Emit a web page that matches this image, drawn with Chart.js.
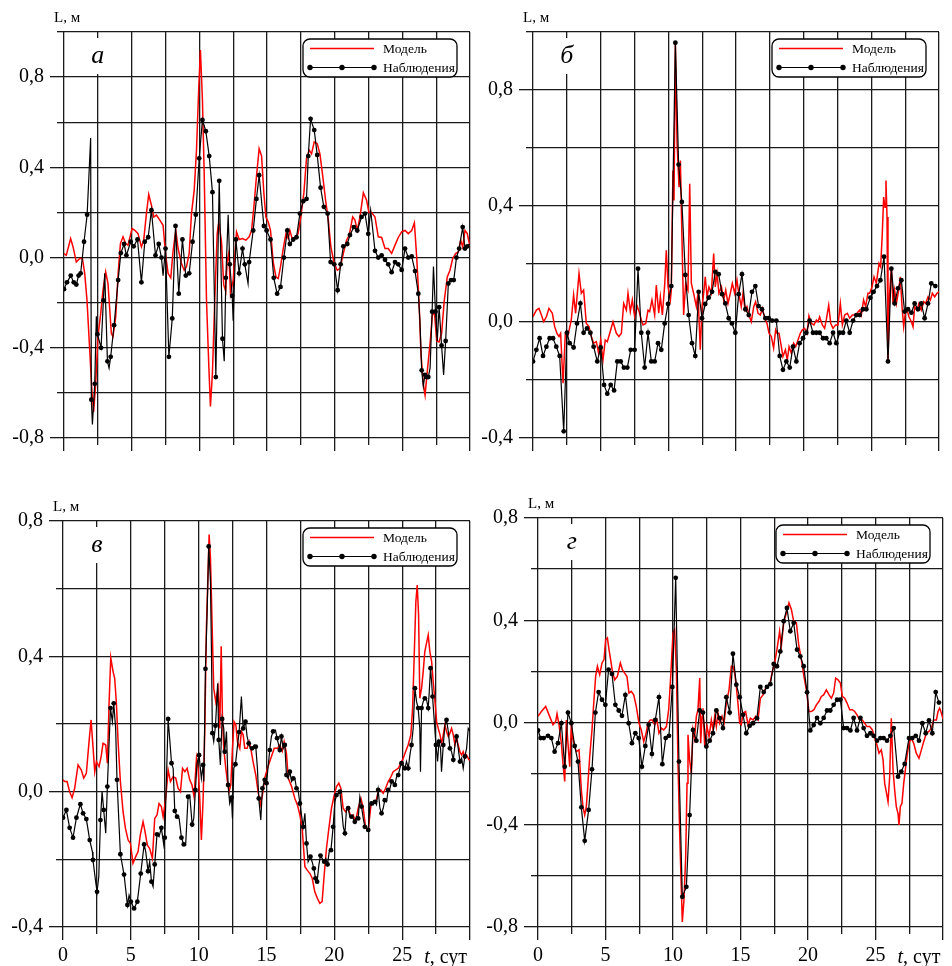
<!DOCTYPE html>
<html>
<head>
<meta charset="utf-8">
<script src="https://cdn.jsdelivr.net/npm/chart.js@4.4.1/dist/chart.umd.min.js"></script>
<style>
  html, body { margin: 0; padding: 0; background: #fff; }
  body { width: 952px; height: 966px; position: relative; overflow: hidden; }
  canvas { position: absolute; }
</style>
</head>
<body>
<canvas id="panelA" width="476" height="465" style="left:0px;top:0px"></canvas>
<canvas id="panelB" width="480" height="465" style="left:469px;top:0px"></canvas>
<canvas id="panelV" width="476" height="485" style="left:-1px;top:489px"></canvas>
<canvas id="panelG" width="483" height="488" style="left:474px;top:486px"></canvas>
<script>
  // ---------------------------
  // Axes
  // ---------------------------
  const xGrid = [0, 2.5, 5, 7.5, 10, 12.5, 15, 17.5, 20, 22.5, 25, 27.5, 30];
  const xMajor = [0, 5, 10, 15, 20, 25, 30];
  const xTickLabels = ["0", "5", "10", "15", "20", "25", ""];

  const yGridA = [-0.8, -0.6, -0.4, -0.2, 0, 0.2, 0.4, 0.6, 0.8, 1.0];
  const yLabA = [-0.8, -0.4, 0, 0.4, 0.8];
  const yGridB = [-0.4, -0.2, 0, 0.2, 0.4, 0.6, 0.8, 1.0];
  const yLabB = [-0.4, 0, 0.4, 0.8];
  const yGridV = [-0.4, -0.2, 0, 0.2, 0.4, 0.6, 0.8];
  const yLabV = [-0.4, 0, 0.4, 0.8];
  const yGridG = [-0.8, -0.6, -0.4, -0.2, 0, 0.2, 0.4, 0.6, 0.8];
  const yLabG = [-0.8, -0.4, 0, 0.4, 0.8];

  // ---------------------------
  // Panel а
  // ---------------------------
  const modelA = [[0,0.018],[0.17,0.01],[0.49,0.084],[0.67,0.047],[0.91,-0.02],[1.16,-0.004],[1.36,-0.004],[1.53,-0.07],[1.7,-0.19],[1.9,-0.41],[2.07,-0.6],[2.19,-0.685],[2.34,-0.56],[2.51,-0.35],[2.71,-0.25],[2.88,-0.145],[3.08,-0.064],[3.25,-0.115],[3.5,-0.337],[3.62,-0.35],[3.82,-0.263],[4.0,-0.07],[4.17,0.062],[4.36,0.092],[4.56,0.062],[4.73,0.055],[5.03,0.129],[5.23,0.121],[5.47,0.106],[5.72,0.047],[5.89,0.077],[6.09,0.195],[6.26,0.28],[6.46,0.232],[6.63,0.18],[6.83,0.188],[7.08,0.166],[7.32,0.143],[7.5,0.018],[7.69,-0.07],[7.89,-0.09],[8.06,0.03],[8.26,0.121],[8.43,0.04],[8.68,-0.027],[8.88,-0.056],[9.05,-0.041],[9.25,0.018],[9.42,0.195],[9.62,0.298],[9.79,0.476],[9.96,0.757],[10.08,0.92],[10.23,0.7],[10.36,0.37],[10.53,-0.19],[10.7,-0.48],[10.82,-0.66],[10.97,-0.51],[11.14,-0.19],[11.32,0.106],[11.44,0.158],[11.64,0.07],[11.8,-0.12],[11.95,-0.15],[12.05,-0.02],[12.18,0.02],[12.3,-0.16],[12.5,-0.1],[12.75,0.114],[12.95,0.08],[13.19,0.084],[13.44,0.077],[13.68,0.092],[13.86,0.12],[14.03,0.225],[14.22,0.358],[14.42,0.483],[14.6,0.45],[14.77,0.284],[14.92,0.18],[15.09,0.158],[15.26,0.12],[15.46,-0.02],[15.66,-0.086],[15.83,-0.093],[16.0,-0.04],[16.2,0.04],[16.4,0.106],[16.57,0.084],[16.69,0.12],[16.89,0.077],[17.06,0.09],[17.3,0.106],[17.5,0.18],[17.73,0.29],[17.92,0.44],[18.12,0.476],[18.29,0.46],[18.49,0.513],[18.71,0.505],[18.91,0.46],[19.1,0.37],[19.33,0.254],[19.53,0.166],[19.72,0.047],[19.97,-0.027],[20.19,-0.056],[20.39,-0.049],[20.64,0.018],[20.88,0.077],[21.08,0.1],[21.33,0.18],[21.5,0.166],[21.67,0.12],[21.87,0.18],[22.12,0.287],[22.36,0.254],[22.53,0.2],[22.73,0.2],[22.98,0.18],[23.22,0.092],[23.47,0.089],[23.72,0.04],[23.96,0.04],[24.21,0.018],[24.46,0.055],[24.7,0.089],[24.95,0.114],[25.2,0.12],[25.44,0.106],[25.69,0.12],[25.89,0.154],[26.06,0.003],[26.23,-0.19],[26.38,-0.43],[26.55,-0.56],[26.68,-0.61],[26.85,-0.5],[27.05,-0.38],[27.22,-0.256],[27.37,-0.24],[27.54,-0.37],[27.71,-0.374],[27.9,-0.337],[28.1,-0.19],[28.32,-0.086],[28.52,-0.056],[28.72,-0.004],[28.94,0.018],[29.14,0.025],[29.31,0.077],[29.46,0.047],[29.63,0.12],[29.8,0.106],[30,0.047]];
  // observation points drawn with a dot (every 6 h)
  const obsA = [[0,-0.14],[0.22,-0.11],[0.5,-0.08],[0.72,-0.11],[0.91,-0.12],[1.08,-0.08],[1.23,-0.07],[1.48,0.07],[1.71,0.19],[2.02,-0.63],[2.27,-0.56],[2.47,-0.34],[2.74,-0.4],[2.91,-0.19],[3.21,-0.46],[3.45,-0.44],[3.7,-0.3],[4.0,-0.1],[4.2,0.02],[4.44,0.06],[4.61,0.01],[4.93,0.07],[5.15,0.05],[5.43,0.08],[5.72,-0.11],[5.97,0.07],[6.22,0.09],[6.46,0.21],[6.76,0.01],[7.0,0.06],[7.2,0.0],[7.5,0.04],[7.75,-0.44],[8.0,-0.27],[8.24,0.14],[8.48,-0.16],[8.75,0.08],[9.0,-0.08],[9.25,-0.07],[9.5,0.07],[9.74,0.19],[9.99,0.44],[10.23,0.61],[10.48,0.56],[10.73,0.45],[10.97,0.29],[11.22,-0.53],[11.47,0.34],[11.71,-0.36],[11.96,-0.09],[12.25,-0.03],[12.43,-0.17],[12.7,0.08],[12.94,-0.07],[13.19,0.04],[13.36,-0.03],[13.68,-0.02],[13.98,0.12],[14.22,0.26],[14.42,0.365],[14.77,0.14],[14.97,0.12],[15.26,0.08],[15.5,-0.09],[15.75,-0.16],[16.0,-0.13],[16.25,0.0],[16.5,0.12],[16.69,0.06],[16.94,0.08],[17.18,0.09],[17.43,0.195],[17.68,0.25],[17.92,0.26],[18.05,0.45],[18.22,0.615],[18.49,0.565],[18.71,0.455],[18.96,0.31],[19.2,0.225],[19.48,0.195],[19.7,-0.02],[19.97,-0.03],[20.22,-0.145],[20.44,-0.03],[20.64,0.05],[20.93,0.06],[21.13,0.1],[21.42,0.135],[21.67,0.12],[21.99,0.18],[22.24,0.195],[22.48,0.105],[22.98,0.03],[23.22,0.0],[23.47,0.01],[23.72,-0.01],[23.96,-0.03],[24.21,-0.065],[24.46,-0.02],[24.7,-0.03],[24.95,-0.055],[25.2,0.04],[25.44,0.0],[25.69,0.005],[25.94,-0.06],[26.18,-0.16],[26.43,-0.5],[26.67,-0.52],[26.8,-0.53],[26.92,-0.53],[27.2,-0.24],[27.45,-0.24],[27.72,-0.22],[27.9,-0.39],[28.2,-0.37],[28.4,-0.115],[28.6,-0.1],[28.8,-0.1],[29.0,0.0],[29.2,0.04],[29.46,0.135],[29.63,0.04],[29.8,0.05]];
  // hourly vertices between the dots (no marker)
  const obsALine = [[1.97,0.53],[2.1,-0.74],[2.39,-0.26],[3.01,-0.07],[3.33,-0.49],[7.32,-0.08],[11.84,-0.46],[12.13,0.19],[12.5,-0.28],[13.6,-0.115],[22.66,0.21],[26.3,-0.28],[26.55,-0.57],[27.05,-0.49],[27.3,-0.04],[27.58,-0.37],[28.05,-0.52],[30,0.06]];

  // ---------------------------
  // Panel б
  // ---------------------------
  const modelB = [[0,0.018],[0.25,0.041],[0.44,0.047],[0.62,0.024],[0.79,0.001],[0.99,0.018],[1.18,0.047],[1.43,0.03],[1.6,-0.016],[1.77,-0.039],[1.92,-0.05],[2.04,-0.039],[2.22,-0.211],[2.39,-0.039],[2.59,-0.045],[2.83,0.007],[3.0,0.093],[3.15,0.03],[3.4,0.167],[3.57,0.099],[3.74,0.11],[3.94,-0.005],[4.14,-0.016],[4.31,-0.05],[4.48,-0.073],[4.68,-0.068],[4.85,-0.108],[5.0,-0.062],[5.17,-0.131],[5.34,-0.062],[5.49,-0.068],[5.67,-0.039],[5.91,0.001],[6.16,-0.039],[6.35,-0.05],[6.53,-0.039],[6.7,0.064],[6.9,0.041],[7.02,0.099],[7.19,0.036],[7.34,0.076],[7.51,0.018],[7.71,0.053],[7.88,0.03],[8.0,0.007],[8.13,-0.01],[8.33,-0.005],[8.5,0.041],[8.62,0.036],[8.79,0.076],[8.99,0.024],[9.11,0.127],[9.29,0.03],[9.41,0.087],[9.56,0.024],[9.73,0.127],[9.85,0.247],[9.98,0.121],[10.15,0.076],[10.22,0.11],[10.34,0.522],[10.42,0.419],[10.52,0.958],[10.64,0.625],[10.79,0.465],[10.89,0.557],[11.01,0.282],[11.13,0.024],[11.28,0.133],[11.45,0.11],[11.58,0.477],[11.7,0.133],[11.87,0.099],[12.07,0.053],[12.19,0.099],[12.36,-0.096],[12.49,0.053],[12.61,0.099],[12.73,0.156],[12.86,0.087],[13.0,0.121],[13.18,0.099],[13.35,0.236],[13.47,0.121],[13.6,0.167],[13.74,0.099],[13.92,0.121],[14.09,0.076],[14.24,0.11],[14.41,0.064],[14.58,0.099],[14.73,0.133],[14.9,0.099],[15.07,0.144],[15.2,0.099],[15.39,0.053],[15.52,0.099],[15.67,0.041],[15.81,0.053],[15.96,0.024],[16.13,0.001],[16.31,0.053],[16.45,0.07],[16.63,0.03],[16.8,0.024],[16.95,0.047],[17.12,0.013],[17.29,-0.005],[17.44,-0.039],[17.61,-0.05],[17.78,-0.09],[17.93,-0.027],[18.03,-0.039],[18.18,-0.039],[18.35,-0.085],[18.47,-0.119],[18.65,-0.096],[18.79,-0.131],[18.92,-0.085],[19.09,-0.108],[19.26,-0.073],[19.41,-0.085],[19.58,-0.062],[19.75,-0.039],[19.9,-0.027],[20.07,-0.022],[20.25,-0.039],[20.39,0.021],[20.57,-0.005],[20.76,-0.01],[20.94,0.007],[21.06,0.001],[21.18,0.018],[21.38,-0.01],[21.55,-0.022],[21.67,0.007],[21.85,0.058],[22.0,-0.005],[22.17,-0.022],[22.36,-0.01],[22.54,-0.01],[22.71,0.064],[22.86,-0.01],[23.03,0.024],[23.23,0.03],[23.4,0.013],[23.6,0.024],[23.77,0.024],[23.94,0.03],[24.14,0.041],[24.26,0.024],[24.43,0.076],[24.58,0.053],[24.75,0.099],[24.88,0.099],[25.05,0.121],[25.2,0.156],[25.37,0.133],[25.57,0.202],[25.69,0.19],[25.81,0.305],[25.91,0.431],[26.01,0.396],[26.08,0.488],[26.16,0.362],[26.23,-0.142],[26.35,0.099],[26.48,0.19],[26.6,0.064],[26.72,0.11],[26.85,0.064],[27.02,0.11],[27.14,0.156],[27.27,0.053],[27.39,-0.016],[27.51,0.03],[27.64,0.041],[27.78,0.018],[27.96,0.001],[28.08,-0.016],[28.2,0.053],[28.37,0.041],[28.52,0.064],[28.69,0.041],[28.87,0.07],[29.01,0.064],[29.19,0.087],[29.36,0.076],[29.51,0.099],[29.68,0.087],[29.85,0.099],[30,0.104]];
  const obsB = [[0,-0.136],[0.25,-0.096],[0.49,-0.056],[0.74,-0.117],[0.99,-0.085],[1.23,-0.056],[1.48,-0.056],[1.72,-0.085],[1.97,-0.117],[2.27,-0.377],[2.51,-0.037],[2.71,-0.073],[3.0,-0.088],[3.25,-0.005],[3.5,0.064],[3.74,-0.037],[3.99,-0.022],[4.24,-0.037],[4.48,-0.085],[4.75,-0.136],[5.0,-0.088],[5.25,-0.217],[5.49,-0.247],[5.74,-0.217],[5.99,-0.236],[6.23,-0.136],[6.48,-0.136],[6.72,-0.157],[6.97,-0.157],[7.22,-0.096],[7.51,-0.096],[7.76,0.184],[8.0,-0.037],[8.25,-0.157],[8.5,-0.037],[8.74,-0.136],[8.99,-0.136],[9.24,-0.073],[9.48,-0.096],[9.73,-0.005],[9.98,0.062],[10.22,0.124],[10.52,0.963],[10.76,0.543],[11.0,0.414],[11.26,0.162],[11.5,0.024],[11.75,-0.073],[11.99,-0.117],[12.24,0.104],[12.49,0.013],[12.73,0.062],[12.98,0.084],[13.23,0.104],[13.47,0.173],[13.72,0.165],[13.97,0.096],[14.21,0.064],[14.46,0.013],[14.7,-0.005],[14.95,-0.037],[15.2,0.096],[15.44,0.165],[15.69,0.044],[15.94,0.024],[16.18,0.104],[16.43,0.124],[16.67,0.055],[16.92,0.044],[17.17,0.013],[17.41,0.013],[17.66,0.005],[17.98,0.005],[18.23,-0.117],[18.47,-0.165],[18.72,-0.136],[18.97,-0.157],[19.21,-0.085],[19.46,-0.136],[19.7,-0.073],[19.95,-0.056],[20.2,-0.037],[20.44,0.005],[20.69,-0.037],[20.94,-0.037],[21.18,-0.037],[21.43,-0.056],[21.67,-0.056],[21.92,-0.073],[22.17,-0.037],[22.41,-0.073],[22.66,-0.037],[22.91,-0.037],[23.15,0.005],[23.4,-0.037],[23.65,0.005],[23.89,0.024],[24.14,0.024],[24.38,0.044],[24.63,0.044],[24.93,0.084],[25.17,0.104],[25.42,0.124],[25.67,0.144],[25.94,0.225],[26.23,-0.136],[26.48,0.184],[26.72,0.064],[26.97,0.116],[27.22,0.144],[27.46,0.036],[27.71,0.044],[27.96,0.032],[28.2,0.064],[28.45,0.044],[28.69,0.064],[28.94,0.013],[29.19,0.064],[29.43,0.133],[29.73,0.124]];

  // ---------------------------
  // Panel в
  // ---------------------------
  const modelV = [[0,0.035],[0.12,0.03],[0.3,0.03],[0.49,0.0],[0.67,-0.018],[0.86,0.01],[1.11,0.079],[1.35,0.064],[1.53,0.04],[1.72,0.054],[1.92,0.148],[2.07,0.212],[2.22,0.128],[2.34,0.059],[2.46,0.089],[2.66,0.074],[2.83,0.108],[2.95,0.143],[3.15,0.138],[3.27,0.084],[3.4,0.266],[3.52,0.396],[3.69,0.355],[3.81,0.335],[3.93,0.266],[4.06,0.148],[4.23,0.03],[4.43,-0.06],[4.6,-0.108],[4.8,-0.143],[4.97,-0.153],[5.16,-0.212],[5.36,-0.192],[5.53,-0.178],[5.7,-0.128],[5.9,-0.089],[6.0,-0.108],[6.22,-0.158],[6.39,-0.168],[6.59,-0.197],[6.76,-0.079],[6.93,-0.069],[7.08,-0.035],[7.25,-0.044],[7.38,-0.074],[7.57,-0.02],[7.75,0.064],[7.92,0.03],[8.11,0.044],[8.31,0.04],[8.48,0.01],[8.66,0.0],[8.81,0.069],[8.98,0.059],[9.15,0.069],[9.34,0.035],[9.51,0.02],[9.66,-0.015],[9.84,0.099],[9.96,0.069],[10.08,-0.02],[10.2,-0.143],[10.33,-0.02],[10.45,0.178],[10.57,0.483],[10.7,0.66],[10.77,0.76],[10.87,0.69],[10.99,0.493],[11.11,0.306],[11.26,0.266],[11.43,0.306],[11.56,0.187],[11.66,0.43],[11.75,0.227],[11.85,0.128],[12.0,0.069],[12.12,0.03],[12.24,0.0],[12.37,0.02],[12.49,0.128],[12.61,0.207],[12.74,0.197],[12.86,0.148],[13.03,0.128],[13.15,0.178],[13.28,0.168],[13.4,0.128],[13.57,0.128],[13.72,0.148],[13.84,0.128],[14.01,0.089],[14.21,0.049],[14.38,0.0],[14.55,-0.039],[14.7,-0.01],[14.87,0.04],[15.07,0.069],[15.32,0.099],[15.57,0.128],[15.81,0.128],[15.98,0.138],[16.16,0.12],[16.3,0.148],[16.47,0.113],[16.6,0.04],[16.85,0.015],[17.09,-0.02],[17.28,-0.039],[17.46,-0.069],[17.63,-0.108],[17.83,-0.222],[18.0,-0.232],[18.2,-0.242],[18.37,-0.256],[18.56,-0.296],[18.76,-0.316],[18.93,-0.33],[19.1,-0.325],[19.25,-0.247],[19.42,-0.168],[19.6,-0.108],[19.79,-0.049],[19.99,-0.01],[20.16,0.015],[20.33,0.025],[20.48,0.01],[20.65,-0.049],[20.82,-0.059],[21.02,-0.049],[21.22,-0.074],[21.39,-0.069],[21.56,-0.089],[21.76,-0.049],[21.96,-0.02],[22.13,-0.049],[22.3,-0.104],[22.5,-0.113],[22.7,-0.039],[22.87,-0.034],[23.04,-0.034],[23.23,0.0],[23.43,0.005],[23.6,-0.005],[23.78,0.01],[23.97,0.03],[24.17,0.044],[24.34,0.059],[24.51,0.064],[24.71,0.069],[24.9,0.084],[25.08,0.099],[25.25,0.118],[25.44,0.138],[25.64,0.168],[25.77,0.247],[25.89,0.404],[26.01,0.562],[26.11,0.611],[26.21,0.522],[26.3,0.276],[26.43,0.306],[26.55,0.355],[26.67,0.414],[26.8,0.44],[26.92,0.463],[27.04,0.414],[27.17,0.385],[27.29,0.325],[27.42,0.266],[27.54,0.207],[27.66,0.187],[27.79,0.168],[27.91,0.143],[28.03,0.168],[28.15,0.197],[28.27,0.178],[28.4,0.163],[28.52,0.173],[28.64,0.187],[28.77,0.168],[28.89,0.138],[29.01,0.158],[29.13,0.138],[29.26,0.118],[29.38,0.108],[29.5,0.118],[29.62,0.099],[29.75,0.108],[29.92,0.094],[30,0.094]];
  const obsV = [[0,-0.077],[0.25,-0.054],[0.49,-0.107],[0.74,-0.136],[0.99,-0.077],[1.28,-0.037],[1.48,-0.064],[1.72,-0.081],[1.97,-0.143],[2.21,-0.202],[2.51,-0.296],[2.76,-0.084],[3.0,-0.054],[3.27,0.015],[3.5,0.247],[3.74,0.261],[3.98,0.035],[4.23,-0.185],[4.5,-0.245],[4.75,-0.335],[5.0,-0.325],[5.24,-0.345],[5.48,-0.325],[5.73,-0.242],[5.98,-0.156],[6.27,-0.235],[6.52,-0.266],[6.76,-0.215],[6.93,-0.126],[7.25,-0.107],[7.5,-0.136],[7.75,0.215],[8.0,0.084],[8.24,-0.057],[8.41,-0.074],[8.73,-0.136],[8.9,-0.156],[9.22,-0.015],[9.52,-0.097],[9.76,0.005],[10.03,0.108],[10.33,0.079],[10.5,0.363],[10.74,0.725],[11.01,0.173],[11.24,0.195],[11.48,0.153],[11.73,0.215],[11.92,0.118],[12.17,0.02],[12.42,-0.018],[12.71,0.081],[12.98,0.176],[13.28,0.187],[13.45,0.207],[13.69,0.143],[13.94,0.128],[14.21,0.133],[14.43,-0.02],[14.7,0.01],[14.87,0.035],[15.0,0.025],[15.24,0.123],[15.49,0.178],[15.78,0.158],[15.98,0.123],[16.1,0.163],[16.35,0.138],[16.47,0.049],[16.72,0.059],[16.97,0.039],[17.21,0.01],[17.46,-0.035],[17.7,-0.104],[17.95,-0.153],[18.24,-0.192],[18.49,-0.227],[18.61,-0.256],[18.73,-0.266],[18.98,-0.189],[19.25,-0.207],[19.5,-0.215],[19.75,-0.173],[19.91,-0.104],[20.16,-0.01],[20.41,0.0],[20.78,-0.123],[21.02,-0.049],[21.27,-0.074],[21.51,-0.089],[21.76,-0.079],[22.0,-0.044],[22.25,-0.104],[22.5,-0.113],[22.74,-0.035],[22.99,-0.03],[23.23,0.005],[23.48,-0.064],[23.72,-0.025],[23.97,0.005],[24.22,0.03],[24.46,0.02],[24.71,0.049],[24.95,0.084],[25.2,0.069],[25.45,0.069],[25.69,0.138],[25.94,0.306],[26.18,0.247],[26.43,0.247],[26.67,0.276],[26.92,0.247],[27.09,0.365],[27.24,0.281],[27.49,0.138],[27.71,0.148],[28.03,0.138],[28.27,0.212],[28.52,0.128],[28.77,0.094],[29.01,0.163],[29.26,0.089],[29.62,0.104]];
  const obsVLine = [[2.17,-0.178],[2.39,-0.261],[2.64,-0.25],[2.88,0.0],[3.15,-0.123],[3.64,0.207],[3.88,0.187],[4.87,-0.306],[6.1,-0.178],[6.39,-0.207],[6.64,-0.281],[7.08,-0.133],[7.43,-0.158],[7.88,0.148],[8.12,0.069],[8.56,-0.079],[9.04,-0.158],[9.34,-0.01],[9.64,-0.079],[9.88,0.084],[10.2,0.039],[10.38,0.03],[10.62,0.525],[10.87,0.621],[10.94,0.424],[11.11,0.148],[11.4,0.32],[11.6,0.079],[11.85,0.187],[12.05,0.178],[12.29,-0.035],[12.49,-0.079],[12.59,0.069],[12.84,0.128],[13.15,0.281],[13.57,0.163],[13.81,0.128],[14.09,0.138],[14.33,0.069],[14.58,-0.084],[15.36,0.163],[15.66,0.182],[16.23,0.128],[16.6,0.039],[16.85,0.03],[17.09,0.039],[17.33,0.005],[17.58,-0.069],[17.83,-0.064],[18.07,-0.207],[18.36,-0.207],[18.86,-0.217],[19.1,-0.197],[19.37,-0.197],[19.62,-0.178],[20.04,-0.03],[20.29,-0.005],[20.53,-0.049],[20.66,-0.104],[20.9,-0.049],[21.14,-0.074],[21.39,-0.079],[21.63,-0.074],[21.88,-0.015],[22.13,-0.079],[22.38,-0.108],[22.62,-0.039],[22.86,-0.039],[23.11,-0.039],[23.36,-0.049],[23.6,-0.049],[23.85,-0.03],[24.1,0.01],[24.34,0.03],[24.59,0.044],[24.83,0.069],[25.08,0.079],[25.32,0.089],[25.57,0.108],[25.81,0.187],[26.06,0.266],[26.3,0.187],[26.35,0.059],[26.55,0.266],[26.8,0.271],[26.99,0.291],[27.17,0.325],[27.37,0.207],[27.61,0.089],[27.83,0.128],[27.9,0.059],[28.15,0.197],[28.4,0.178],[28.64,0.118],[28.89,0.138],[29.13,0.128],[29.38,0.099],[29.5,0.069],[29.75,0.128],[29.87,0.187],[30,0.178]];

  // ---------------------------
  // Panel г
  // ---------------------------
  const modelG = [[0,0.024],[0.25,0.043],[0.57,0.063],[0.86,0.024],[1.11,-0.009],[1.31,0.004],[1.41,0.034],[1.56,-0.009],[1.73,-0.081],[1.85,-0.16],[1.98,-0.231],[2.1,0.01],[2.22,-0.081],[2.35,-0.173],[2.47,-0.003],[2.54,-0.055],[2.72,-0.094],[2.84,-0.114],[3.04,-0.107],[3.21,-0.264],[3.33,-0.329],[3.46,-0.362],[3.58,-0.329],[3.7,-0.238],[3.83,-0.133],[4.0,-0.029],[4.12,0.069],[4.27,0.18],[4.4,0.22],[4.57,0.187],[4.74,0.233],[4.89,0.246],[5.01,0.324],[5.14,0.331],[5.26,0.285],[5.38,0.246],[5.51,0.2],[5.68,0.167],[5.88,0.18],[6.1,0.233],[6.25,0.207],[6.42,0.193],[6.59,0.18],[6.74,0.115],[6.91,0.122],[7.09,0.108],[7.28,0.063],[7.48,-0.003],[7.65,-0.029],[7.83,-0.075],[7.98,-0.048],[8.15,-0.003],[8.32,0.01],[8.47,0.01],[8.64,-0.009],[8.81,0.01],[8.96,-0.042],[9.14,-0.022],[9.31,-0.029],[9.51,-0.016],[9.68,0.05],[9.83,0.18],[10.0,0.35],[10.12,0.363],[10.25,0.207],[10.37,-0.16],[10.49,-0.421],[10.62,-0.656],[10.69,-0.78],[10.81,-0.695],[10.94,-0.525],[11.04,-0.238],[11.11,-0.048],[11.23,-0.146],[11.36,-0.199],[11.48,-0.029],[11.6,-0.061],[11.73,0.024],[11.85,0.05],[11.98,0.174],[12.05,-0.081],[12.15,0.024],[12.22,0.056],[12.35,-0.094],[12.52,-0.016],[12.67,-0.055],[12.84,0.01],[12.96,-0.029],[13.09,0.024],[13.21,-0.016],[13.33,0.037],[13.46,-0.003],[13.63,0.024],[13.78,-0.003],[13.95,0.076],[14.15,0.128],[14.32,0.22],[14.44,0.22],[14.57,0.193],[14.69,0.141],[14.81,0.076],[14.94,-0.003],[15.06,-0.009],[15.19,0.037],[15.38,0.043],[15.56,-0.009],[15.73,0.017],[15.93,0.01],[16.12,0.024],[16.3,0.01],[16.47,0.095],[16.67,0.108],[16.91,0.141],[17.16,0.148],[17.36,0.2],[17.53,0.233],[17.7,0.285],[17.9,0.357],[18.02,0.298],[18.2,0.39],[18.4,0.429],[18.59,0.468],[18.77,0.442],[18.94,0.396],[19.14,0.39],[19.31,0.305],[19.51,0.246],[19.7,0.18],[19.88,0.128],[20.07,0.043],[20.25,0.043],[20.44,0.05],[20.62,0.069],[20.81,0.082],[20.99,0.102],[21.16,0.108],[21.36,0.128],[21.56,0.108],[21.73,0.095],[21.9,0.115],[22.05,0.174],[22.22,0.167],[22.4,0.154],[22.54,0.102],[22.72,0.095],[22.89,0.076],[23.09,0.05],[23.28,0.05],[23.46,0.043],[23.63,0.03],[23.83,0.01],[24.02,0.01],[24.2,-0.003],[24.37,-0.016],[24.57,-0.016],[24.77,-0.029],[24.94,-0.061],[25.11,-0.088],[25.26,-0.12],[25.43,-0.107],[25.56,-0.146],[25.68,-0.238],[25.8,-0.271],[25.93,-0.31],[26.05,-0.212],[26.17,0.017],[26.3,-0.186],[26.42,-0.264],[26.54,-0.329],[26.67,-0.356],[26.74,-0.401],[26.84,-0.329],[26.96,-0.316],[27.09,-0.238],[27.21,-0.186],[27.33,-0.133],[27.48,-0.081],[27.65,-0.061],[27.83,-0.081],[28.02,-0.12],[28.22,-0.14],[28.4,-0.107],[28.57,-0.075],[28.77,-0.042],[28.96,-0.035],[29.14,-0.022],[29.31,0.01],[29.51,0.01],[29.63,0.043],[29.75,0.056],[29.88,0.037],[30,0.013]];
  const obsG = [[0,-0.031],[0.2,-0.061],[0.42,-0.061],[0.74,-0.052],[0.99,-0.061],[1.23,-0.114],[1.48,-0.081],[1.73,-0.003],[1.98,-0.173],[2.22,0.039],[2.47,-0.003],[2.72,-0.092],[2.96,-0.153],[3.21,-0.332],[3.46,-0.463],[3.75,-0.342],[4.0,-0.183],[4.25,0.039],[4.49,0.119],[4.74,0.089],[4.99,0.069],[5.23,0.207],[5.48,0.19],[5.73,0.069],[5.98,0.047],[6.22,0.026],[6.47,0.108],[6.72,-0.003],[6.96,-0.081],[7.21,-0.042],[7.46,-0.061],[7.7,-0.173],[7.95,-0.092],[8.2,-0.009],[8.44,-0.123],[8.69,0.01],[8.96,0.099],[9.21,-0.163],[9.46,-0.061],[9.7,-0.052],[9.95,0.139],[10.2,0.566],[10.44,-0.153],[10.69,-0.682],[10.99,-0.643],[11.23,-0.362],[11.48,-0.029],[11.73,-0.071],[11.98,0.047],[12.22,0.039],[12.47,-0.094],[12.72,-0.071],[12.96,-0.042],[13.21,0.047],[13.46,0.017],[13.7,-0.022],[13.95,0.099],[14.2,0.039],[14.44,0.269],[14.69,0.148],[14.94,0.099],[15.19,0.03],[15.43,-0.042],[15.68,-0.013],[15.93,-0.003],[16.22,0.017],[16.47,0.139],[16.72,0.119],[16.96,0.139],[17.21,0.15],[17.46,0.229],[17.7,0.22],[17.95,0.278],[18.2,0.396],[18.44,0.448],[18.69,0.357],[18.94,0.39],[19.19,0.285],[19.43,0.259],[19.68,0.22],[19.93,0.118],[20.17,-0.031],[20.42,-0.01],[20.67,0.018],[20.91,-0.003],[21.16,0.018],[21.41,0.047],[21.65,0.047],[21.9,0.069],[22.15,0.089],[22.4,0.089],[22.64,-0.022],[22.89,-0.022],[23.14,-0.031],[23.38,0.018],[23.63,-0.031],[23.88,0.018],[24.12,-0.022],[24.37,-0.052],[24.62,-0.042],[24.86,-0.052],[25.11,-0.071],[25.36,-0.061],[25.6,-0.061],[25.85,-0.071],[26.1,-0.052],[26.35,-0.022],[26.67,-0.212],[26.91,-0.192],[27.16,-0.162],[27.48,-0.061],[27.73,-0.061],[27.98,-0.052],[28.22,-0.071],[28.47,-0.003],[28.72,-0.042],[28.96,0.008],[29.21,-0.042],[29.46,0.119],[29.7,0.078]];

  // ---------------------------
  // Drawing
  // ---------------------------
  const SERIF = "'Liberation Serif', 'Times New Roman', serif";
  const GRID = "#1a1a1a";
  Chart.defaults.font.family = SERIF;
  Chart.defaults.color = "#000";

  function fmtL(v) {
    return v.toFixed(1).replace(".", ",");
  }

  // panel letter, "L, м", legend box and the time axis title
  const decor = {
    id: "decor",
    afterDraw(chart, args, o) {
      const { ctx, chartArea: a, scales } = chart;
      ctx.save();
      ctx.fillStyle = "#000";
      ctx.textAlign = "left";
      ctx.textBaseline = "alphabetic";
      ctx.font = "15px " + SERIF;
      ctx.fillText("L, м", a.left - 10, a.top - 10);

      // letter on a white patch over the 2.5 grid line
      const lx = scales.x.getPixelForValue(2.5);
      ctx.fillStyle = "#fff";
      ctx.fillRect(lx - 12, a.top + 6, 24, 36);
      ctx.fillStyle = "#000";
      ctx.textAlign = "center";
      ctx.font = "italic 26px " + SERIF;
      ctx.fillText(o.letter, lx, a.top + 31);

      // legend
      const w = 154, h = 38;
      const x0 = a.right - 13 - w, y0 = a.top + 7;
      ctx.beginPath();
      ctx.roundRect(x0, y0, w, h, 7);
      ctx.fillStyle = "#fff";
      ctx.fill();
      ctx.lineWidth = 1.3;
      ctx.strokeStyle = "#000";
      ctx.stroke();

      ctx.beginPath();
      ctx.moveTo(x0 + 7, y0 + 9.5);
      ctx.lineTo(x0 + 71, y0 + 9.5);
      ctx.strokeStyle = "#ff0000";
      ctx.lineWidth = 1.5;
      ctx.stroke();

      ctx.beginPath();
      ctx.moveTo(x0 + 7, y0 + 28.5);
      ctx.lineTo(x0 + 71, y0 + 28.5);
      ctx.strokeStyle = "#000";
      ctx.lineWidth = 1.2;
      ctx.stroke();
      ctx.fillStyle = "#000";
      [7, 39, 71].forEach((dx) => {
        ctx.beginPath();
        ctx.arc(x0 + dx, y0 + 28.5, 2.7, 0, Math.PI * 2);
        ctx.fill();
      });

      ctx.textAlign = "left";
      ctx.textBaseline = "middle";
      ctx.font = "13.5px " + SERIF;
      ctx.fillText("Модель", x0 + 80, y0 + 10);
      ctx.fillText("Наблюдения", x0 + 80, y0 + 29);

      if (o.axisTitle) {
        const tx = scales.x.getPixelForValue(25) + 22;
        const ty = a.bottom + 36;
        ctx.textBaseline = "alphabetic";
        ctx.font = "italic 20px " + SERIF;
        ctx.fillText("t", tx, ty);
        const tw = ctx.measureText("t").width;
        ctx.font = "20px " + SERIF;
        ctx.fillText(", сут", tx + tw, ty);
      }
      ctx.restore();
    }
  };

  function makePanel(id, p) {
    const obsPts = p.obs
      .map(([x, y]) => ({ x, y, dot: true }))
      .concat((p.obsLine || []).map(([x, y]) => ({ x, y, dot: false })))
      .sort((a, b) => a.x - b.x);

    new Chart(document.getElementById(id), {
      type: "line",
      data: {
        datasets: [
          {
            label: "Наблюдения",
            data: obsPts,
            borderColor: "#000",
            borderWidth: 1.2,
            pointRadius: (c) => (c.raw && c.raw.dot ? 2.4 : 0),
            pointBackgroundColor: "#000",
            pointBorderWidth: 0,
            pointHoverRadius: 0,
            tension: 0,
            order: 0
          },
          {
            label: "Модель",
            data: p.model.map(([x, y]) => ({ x, y })),
            borderColor: "#ff0000",
            borderWidth: 1.5,
            pointRadius: 0,
            tension: 0,
            order: 1
          }
        ]
      },
      options: {
        responsive: false,
        animation: false,
        events: [],
        layout: { padding: { top: 32, left: 0, right: p.padRight, bottom: 0 } },
        plugins: {
          legend: { display: false },
          tooltip: { enabled: false },
          decor: { letter: p.letter, axisTitle: p.labels }
        },
        scales: {
          x: {
            type: "linear", position: "bottom", weight: 0, min: 0, max: 30,
            afterBuildTicks: (s) => { s.ticks = xGrid.map((v) => ({ value: v })); },
            afterFit: (s) => { s.height = 7; },
            grid: { color: GRID, lineWidth: 1.3, tickLength: 7, tickColor: GRID, tickWidth: 1.3 },
            border: { display: false },
            ticks: { display: false }
          },
          x2: {
            type: "linear", position: "bottom", weight: 1, min: 0, max: 30,
            afterBuildTicks: (s) => { s.ticks = xMajor.map((v) => ({ value: v })); },
            afterFit: (s) => { s.height = p.labels ? 40 : 20; },
            grid: { drawOnChartArea: false, color: GRID, lineWidth: 1.3, tickLength: 6, tickColor: GRID, tickWidth: 1.3 },
            border: { display: false },
            ticks: {
              display: p.labels, autoSkip: false, maxRotation: 0, padding: 4,
              font: { size: 20 }, color: "#000",
              callback: (v, i) => xTickLabels[i]
            }
          },
          y: {
            type: "linear", position: "left", weight: 0, min: p.yMin, max: p.yMax,
            afterBuildTicks: (s) => { s.ticks = p.yGrid.map((v) => ({ value: v })); },
            afterFit: (s) => { s.width = 7; },
            grid: { color: GRID, lineWidth: 1.3, tickLength: 7, tickColor: GRID, tickWidth: 1.3 },
            border: { display: false },
            ticks: { display: false }
          },
          y2: {
            type: "linear", position: "left", weight: 1, min: p.yMin, max: p.yMax,
            afterBuildTicks: (s) => { s.ticks = p.yLab.map((v) => ({ value: v })); },
            afterFit: (s) => { s.width = 57; },
            grid: { drawOnChartArea: false, color: GRID, lineWidth: 1.3, tickLength: 7, tickColor: GRID, tickWidth: 1.3 },
            border: { display: false },
            ticks: {
              autoSkip: false, padding: 6, font: { size: 20 }, color: "#000",
              callback: (v) => fmtL(v)
            }
          }
        }
      },
      plugins: [decor]
    });
  }

  makePanel("panelA", { model: modelA, obs: obsA, obsLine: obsALine, letter: "а", yMin: -0.8, yMax: 1.0, yGrid: yGridA, yLab: yLabA, padRight: 6, labels: false });
  makePanel("panelB", { model: modelB, obs: obsB, letter: "б", yMin: -0.4, yMax: 1.0, yGrid: yGridB, yLab: yLabB, padRight: 10, labels: false });
  makePanel("panelV", { model: modelV, obs: obsV, obsLine: obsVLine, letter: "в", yMin: -0.4, yMax: 0.8, yGrid: yGridV, yLab: yLabV, padRight: 5, labels: true });
  makePanel("panelG", { model: modelG, obs: obsG, letter: "г", yMin: -0.8, yMax: 0.8, yGrid: yGridG, yLab: yLabG, padRight: 14, labels: true });
</script>
</body>
</html>
